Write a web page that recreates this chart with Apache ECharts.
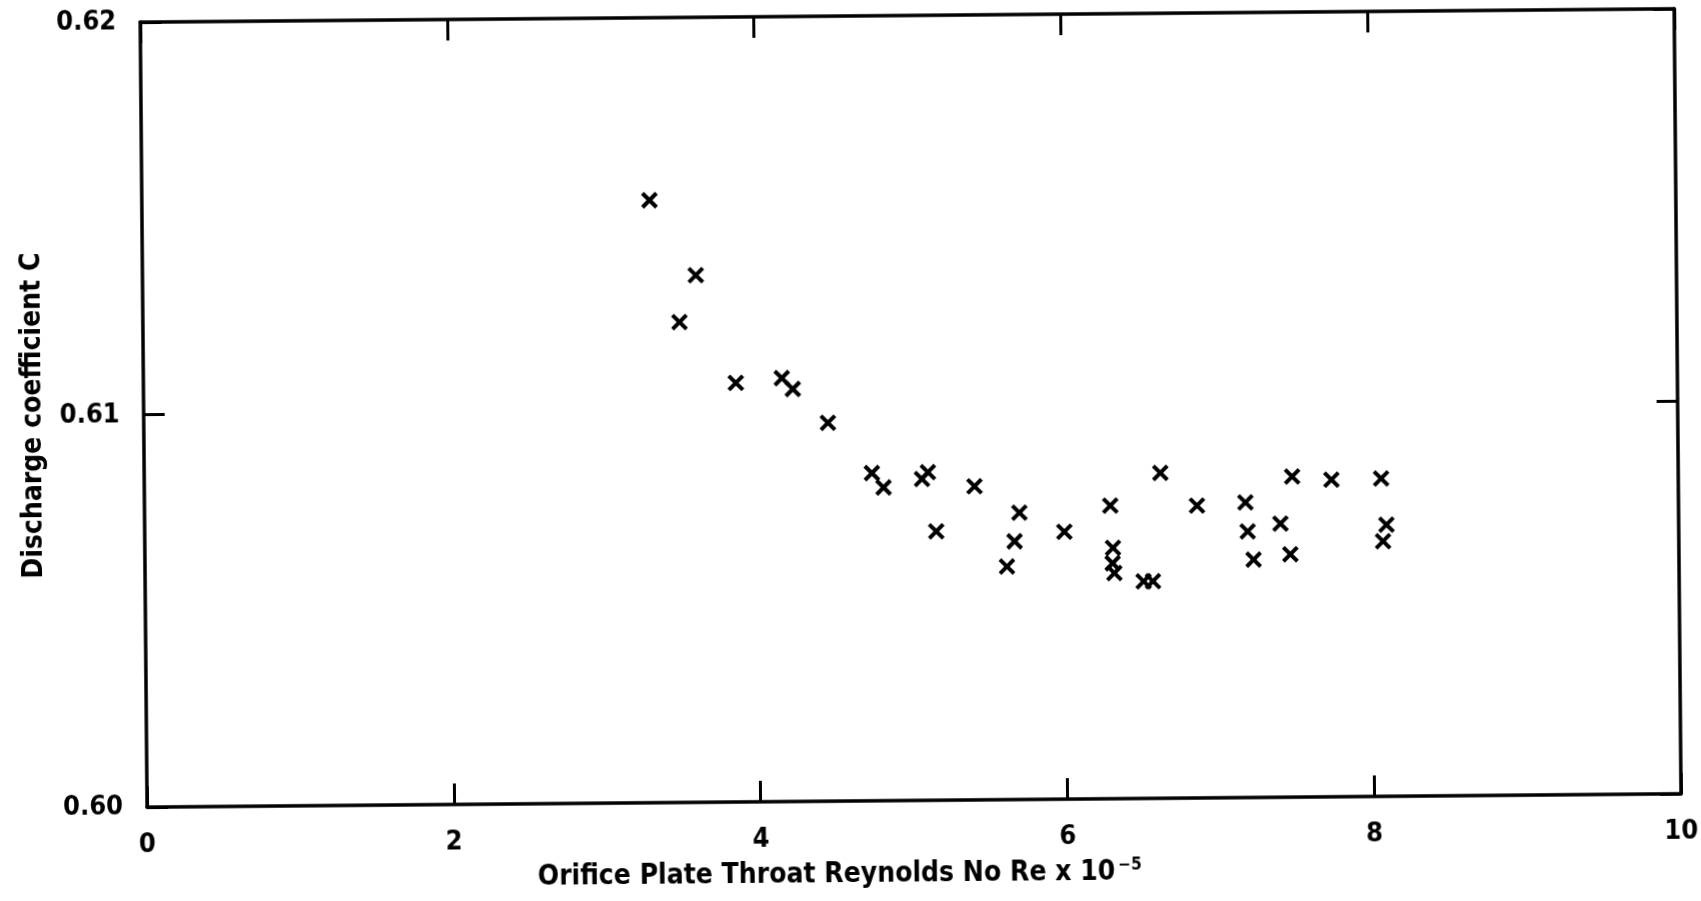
<!DOCTYPE html>
<html>
<head>
<meta charset="utf-8">
<script src="https://cdn.jsdelivr.net/npm/echarts@6/dist/echarts.min.js"></script>
<style>
  html, body { margin: 0; padding: 0; background: #fff; }
  /* the scanned original sits a little tilted */
  #chart { width: 1701px; height: 901px; transform: rotate(-0.5deg); }
</style>
</head>
<body>
<div id="chart"></div>
<script>
// Orifice plate throat Reynolds number (x 10^-5)
const reValues = [3.309, 3.498, 3.607, 3.862, 4.162, 4.233, 4.460, 4.744, 4.819,
  5.070, 5.109, 5.160, 5.412, 5.619, 5.670, 5.703,
  5.995, 6.296, 6.311, 6.308, 6.319, 6.509, 6.570, 6.624, 6.861,
  7.177, 7.190, 7.227, 7.404, 7.483, 7.467, 7.739,
  8.063, 8.095, 8.072]
// discharge coefficient C
const cdValues = [0.61535, 0.61224, 0.61343, 0.61068, 0.61079, 0.61051, 0.60964, 0.60835, 0.60798,
  0.60819, 0.60836, 0.60685, 0.60799, 0.60594, 0.60658, 0.60731,
  0.60681, 0.60747, 0.60639, 0.60600, 0.60575, 0.60553, 0.60553, 0.60829, 0.60745,
  0.60752, 0.60678, 0.60606, 0.60697, 0.60817, 0.60619, 0.60808,
  0.60810, 0.60692, 0.60650]
const xTicks = [0, 2, 4, 6, 8, 10]
const yTicks = [0.60, 0.61, 0.62]

const font = '"DejaVu Sans Condensed", "DejaVu Sans", sans-serif'
const black = '#000'

const chart = echarts.init(document.getElementById('chart'))

const frameLine = { show: true, onZero: false, lineStyle: { color: black, width: 3.5 } }
const inTick = { show: true, inside: true, length: 21, lineStyle: { color: black, width: 3 } }

chart.setOption({
  animation: false,
  grid: { left: 144, right: 23, top: 16, bottom: 100 },
  xAxis: [
    {
      type: 'value',
      min: xTicks[0],
      max: xTicks[xTicks.length - 1],
      interval: 2,
      position: 'bottom',
      axisLine: frameLine,
      axisTick: inTick,
      splitLine: { show: false },
      axisLabel: { color: black, fontFamily: font, fontWeight: 'bold', fontSize: 27, margin: 24 },
      name: '{a|Orifice Plate Throat Reynolds No Re x 10}{s|−5}',
      nameLocation: 'middle',
      nameGap: 58,
      nameTextStyle: {
        padding: [0, 150, 0, 0],
        rich: {
          a: { color: black, fontFamily: font, fontWeight: 'bold', fontSize: 28, lineHeight: 32 },
          s: { color: black, fontFamily: font, fontWeight: 'bold', fontSize: 17, lineHeight: 32, verticalAlign: 'top', padding: [0, 0, 14, 3] }
        }
      }
    },
    {
      type: 'value',
      min: xTicks[0],
      max: xTicks[xTicks.length - 1],
      interval: 2,
      position: 'top',
      axisLine: frameLine,
      axisTick: inTick,
      axisLabel: { show: false },
      splitLine: { show: false }
    }
  ],
  yAxis: [
    {
      type: 'value',
      min: yTicks[0],
      max: yTicks[yTicks.length - 1],
      interval: 0.01,
      position: 'left',
      axisLine: frameLine,
      axisTick: inTick,
      splitLine: { show: false },
      axisLabel: {
        color: black, fontFamily: font, fontWeight: 'bold', fontSize: 27, margin: 24,
        formatter: v => v.toFixed(2)
      },
      name: 'Discharge coefficient C',
      nameLocation: 'middle',
      nameRotate: 90,
      nameGap: 96,
      nameTextStyle: { color: black, fontFamily: font, fontWeight: 'bold', fontSize: 28 }
    },
    {
      type: 'value',
      min: yTicks[0],
      max: yTicks[yTicks.length - 1],
      interval: 0.01,
      position: 'right',
      axisLine: frameLine,
      axisTick: inTick,
      axisLabel: { show: false },
      splitLine: { show: false }
    }
  ],
  series: [
    {
      type: 'scatter',
      data: reValues.map((re, i) => [re, cdValues[i]]),
      symbol: 'path://M0,0L10,10M10,0L0,10',
      symbolSize: 14,
      itemStyle: { color: 'none', borderColor: black, borderWidth: 4, opacity: 1 }
    }
  ]
})
</script>
</body>
</html>
